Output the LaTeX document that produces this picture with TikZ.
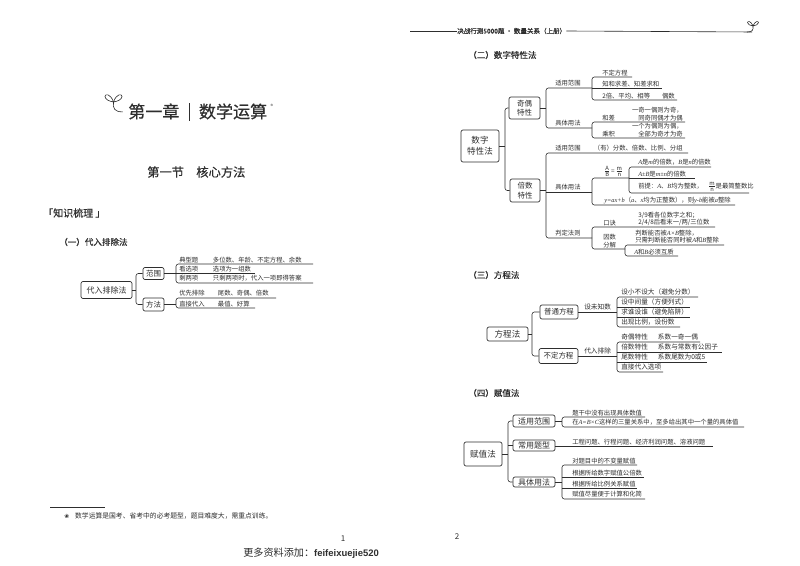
\documentclass[tikz,border=0pt]{standalone}
\usepackage{fontspec}
\setmainfont{Noto Sans CJK SC}
\newfontfamily\symfont{DejaVu Sans}
\newfontfamily\latinfont{Liberation Sans}
\newfontfamily\varfont{Liberation Serif}
\newfontfamily\medfont[FakeBold=0.5]{Noto Sans CJK SC}
\usetikzlibrary{calc}
\definecolor{ink}{gray}{0.18}
\newcommand{\mv}[1]{{\varfont\itshape #1}}
\newcommand{\frc}[2]{\scalebox{0.62}{\fontsize{10}{12}\selectfont$\frac{\mathit{#1}}{\mathit{#2}}$}}
\tikzset{
	conn/.style={draw=ink,line width=0.45pt},
	round/.style={rounded corners=1.8pt},
	leaf/.style={anchor=south west,inner sep=0pt,text=ink,yshift=0.9pt,align=left,font=\fontsize{4.75}{5.5}\selectfont},
	eqleaf/.style={font=\fontsize{5}{6}\selectfont},
	boxsize/.style 2 args={minimum width=#1*0.75pt,minimum height=#2*0.75pt},
	subbox/.style={draw=ink,line width=0.5pt,rounded corners=1.5pt,inner sep=0pt,text=ink,align=center,font=\fontsize{5.6}{7.2}\selectfont},
	rootbox/.style={subbox,font=\fontsize{6.4}{8}\selectfont},
	head/.style={anchor=west,inner sep=0pt,text=ink,font=\fontsize{6.4}{8}\selectfont\medfont},
}
\newcommand{\leaf}[7][] % style, name, x start, x end, y of line (in px), x of text, text
{
	\coordinate (#2-a) at (#3,#5);
	\coordinate (#2-b) at (#4,#5);
	\node[leaf,#1] (#2) at (#6,#5) {#7};
}
\newcommand{\bracket}[2] % first and last leaf of a group
{
	\draw[conn,round] (#1-b) -- (#1-a) -- (#2-a) -- (#2-b);
}
\newcommand{\sprout}[4] % x, y of fork, size across, size down
{
	\begin{scope}[shift={(#1,#2)},x=#3*0.75pt,y=-#4*0.75pt,conn]
		\draw (0,0) .. controls (-0.45,-0.05) and (-1,-0.3) .. (-1,-0.6) .. controls (-1,-0.95) and (-0.35,-0.95) .. (0,0);
		\draw (0,0) .. controls (0.45,-0.05) and (1,-0.3) .. (1,-0.6) .. controls (1,-0.95) and (0.35,-0.95) .. (0,0);
		\draw (0,0) .. controls (-0.1,0.7) and (0.1,1.1) .. (1.1,1.1);
	\end{scope}
}

\begin{document}
\begin{tikzpicture}[x=0.75pt,y=-0.75pt]
	% page is 800 x 566 px
	\useasboundingbox (0,0) rectangle (800,566);
	\fill[white] (0,0) rectangle (800,566);

	% left page
	\sprout{113.5}{102}{8.5}{9}
	\node[anchor=west,inner sep=0pt,text=ink,font=\fontsize{12.8}{14}\selectfont\medfont] (chapter) at (128,112) {第一章\hspace{7pt}\rule[-2pt]{0.6pt}{13pt}\hspace{7pt}数学运算};
	\node[inner sep=0pt,text=ink,font=\fontsize{4}{5}\selectfont] (chaptermark) at (272,106) {®};
	\node[anchor=west,inner sep=0pt,text=ink,font=\fontsize{9.2}{11}\selectfont\medfont] (section) at (147,172) {第一节\hspace{9.2pt}核心方法};
	\node[head,font=\fontsize{7.5}{9}\selectfont\medfont] (shuli) at (43,213) {「知识梳理\hspace{1.5pt}」};
	\node[head] (daipaihead) at (59,242) {（一）代入排除法};

	\node[rootbox,boxsize={51}{17},font=\fontsize{6}{8}\selectfont] (daipai) at (106.5,290) {代入排除法};
	\node[subbox,boxsize={21}{12}] (fanwei) at (153.5,273.5) {范围};
	\node[subbox,boxsize={21}{13}] (fangfa) at (153.5,304.5) {方法};
	\coordinate (daipaifork) at (136,290);
	\draw[conn] (daipai.east) -- (daipaifork);
	\draw[conn,round] (fanwei.west) -| (daipaifork) |- (fangfa.west);

	\leaf{dianxing}{176}{313}{264}{179}{典型题\hspace*{11pt}多位数、年龄、不定方程、余数}
	\leaf{kan}{176}{255}{273}{179}{看选项\hspace*{11pt}选项为一组数}
	\leaf{sheng}{176}{313}{283}{179}{剩两项\hspace*{11pt}只剩两项时，代入一项即得答案}
	\leaf{paichu}{176}{276}{298}{179}{优先排除\hspace*{10pt}尾数、奇偶、倍数}
	\leaf{zhijie}{176}{255}{308}{179}{直接代入\hspace*{10pt}最值、好算}
	\bracket{dianxing}{sheng}
	\bracket{paichu}{zhijie}
	\draw[conn] (kan-a) -- (kan-b);
	\draw[conn] (fanwei.east) -- (fanwei.east -| kan-a);
	\draw[conn] (fangfa.east) -- (fangfa.east -| zhijie-a);

	\draw[conn] (50,507) -- (105,507);
	\node[anchor=west,inner sep=0pt,text=ink,font=\fontsize{5.1}{6}\selectfont] (footnote) at (64,516) {{\symfont\fontsize{4.4}{6}\selectfont ❀}\hspace{4.5pt}数学运算是国考、省考中的必考题型，题目难度大，需重点训练。};
	\node[inner sep=0pt,text=ink,font=\fontsize{6}{7}\selectfont] (pageone) at (343,539) {1};
	\node[anchor=west,inner sep=0pt,text=ink,font=\fontsize{7.6}{9}\selectfont] (contact) at (243,553) {更多资料添加：{\latinfont\bfseries\fontsize{7.1}{9}\selectfont feifeixuejie520}};

	% right page, running head
	\node[anchor=west,inner sep=0pt,text=ink,font=\fontsize{4.9}{6}\selectfont\medfont] (runhead) at (457,31) {决战行测5000题 · 数量关系（上册）};
	\coordinate (runl) at (410,31);
	\coordinate (runr) at (752,32);
	\draw[conn] (runl) -- (runhead.west);
	\draw[conn] (runhead.east) -- (runr);
	\sprout{753}{26}{-5.5}{5.5}

	% (2) digit properties
	\node[head] (shuzihead) at (468,55) {（二）数字特性法};
	\node[rootbox,boxsize={38}{32}] (shuzi) at (480,146) {数字\\特性法};
	\node[subbox,boxsize={31}{22}] (jiou) at (524.5,108) {奇偶\\特性};
	\node[subbox,boxsize={30}{23}] (beishu) at (525,190.5) {倍数\\特性};
	\coordinate (shuzifork) at (505,146);
	\draw[conn] (shuzi.east) -- (shuzifork);
	\draw[conn,round] (jiou.west) -| (shuzifork) |- (beishu.west);

	\leaf{jsyong}{546}{592}{88}{555}{适用范围}
	\leaf{jjuti}{546}{592}{128}{555}{具体用法}
	\bracket{jsyong}{jjuti}
	\draw[conn] (jiou.east) -- (jiou.east -| jsyong-a);

	\leaf{buding}{592}{632}{77}{602}{不定方程}
	\leaf{zhihe}{592}{662}{88}{602}{知和求差、知差求和}
	\leaf{ouzhi}{592}{677}{100}{602}{2倍、平均、相等\hspace*{9pt}偶数}
	\bracket{buding}{ouzhi}
	\draw[conn] (zhihe-a) -- (zhihe-b);

	\leaf{hecha}{592}{685}{122}{602}{和差}
	\leaf{chengji}{592}{685}{138}{602}{乘积}
	\bracket{hecha}{chengji}
	\node[leaf,anchor=south east,align=right,xshift=-1.5pt] (hechav) at (hecha-b) {一奇一偶则为奇，\\同奇同偶才为偶};
	\node[leaf,anchor=south east,align=right,xshift=-1.5pt] (chengjiv) at (chengji-b) {一个为偶则为偶，\\全部为奇才为奇};

	\leaf{bsyong}{546}{688}{153}{555}{适用范围\hspace*{10pt}（有）分数、倍数、比例、分组}
	\leaf{bjuti}{546}{592}{192}{555}{具体用法}
	\leaf{bpanding}{546}{592}{238}{555}{判定法则}
	\bracket{bsyong}{bpanding}
	\draw[conn] (bjuti-a) -- (bjuti-b);
	\draw[conn] (beishu.east) -- (beishu.east -| bjuti-a);

	\leaf{bili}{592}{629}{178}{604}{\frc{A}{B}\hspace{0.8pt}=\hspace{0.8pt}\frc{m}{n}}
	\leaf{zhengchu}{592}{735}{205}{604}{\mv{y=ax+b}（\mv{a}、\mv{x}均为正整数），则\mv{y-b}能被\mv{a}整除}
	\bracket{bili}{zhengchu}

	\leaf{abei}{629}{711}{167}{638}{\mv{A}是\mv{m}的倍数，\mv{B}是\mv{n}的倍数}
	\leaf{ahe}{629}{695}{178}{638}{\mv{A±B}是\mv{m±n}的倍数}
	\leaf{qianti}{629}{749}{193}{638}{前提：\mv{A}、\mv{B}均为整数，\hspace{4pt}\frc{m}{n}是最简整数比}
	\bracket{abei}{qianti}
	\draw[conn] (ahe-a) -- (ahe-b);

	\leaf{koujue}{592}{715}{227}{603}{口诀}
	\leaf{yinshu}{592}{625}{249}{603}{因数\\分解}
	\bracket{koujue}{yinshu}
	\node[leaf] (koujuev) at (638,227) {3/9看各位数字之和；\\2/4/8后看末一/两/三位数};

	\leaf{panduan}{625}{724}{245}{635}{判断能否被\mv{A×B}整除，\\只需判断能否同时被\mv{A}和\mv{B}整除}
	\leaf{huzhi}{625}{678}{256}{634}{\mv{A}和\mv{B}必须互质}
	\bracket{panduan}{huzhi}

	% (3) equations
	\node[head] (fanghead) at (468,275) {（三）方程法};
	\node[rootbox,boxsize={41}{14}] (fangcheng) at (507.5,334) {方程法};
	\node[subbox,boxsize={38}{14}] (putong) at (559,312) {普通方程};
	\node[subbox,boxsize={39}{15}] (buding2) at (558.5,356) {不定方程};
	\coordinate (fangfork) at (532,334);
	\draw[conn] (fangcheng.east) -- (fangfork);
	\draw[conn,round] (putong.west) -| (fangfork) |- (buding2.west);

	\leaf[eqleaf]{shezhi}{578}{617}{312}{584}{设未知数}
	\leaf[eqleaf]{daipai2}{578}{617}{356}{584}{代入排除}
	\draw[conn] (shezhi-a) -- (shezhi-b);
	\draw[conn] (daipai2-a) -- (daipai2-b);

	\leaf[eqleaf]{sheda}{617}{698}{297}{621}{设小不设大（避免分数）}
	\leaf[eqleaf]{shezhong}{617}{690}{307}{621}{设中间量（方便列式）}
	\leaf[eqleaf]{sheshei}{617}{690}{317}{621}{求谁设谁（避免陷阱）}
	\leaf[eqleaf]{shefen}{617}{680}{327}{621}{出现比例，设份数}
	\bracket{sheda}{shefen}
	\leaf[eqleaf]{qiou}{617}{700}{342}{621}{奇偶特性\hspace*{7.5pt}系数一奇一偶}
	\leaf[eqleaf]{beite}{617}{722}{352}{621}{倍数特性\hspace*{7.5pt}系数与常数有公因子}
	\leaf[eqleaf]{weite}{617}{707}{362}{621}{尾数特性\hspace*{7.5pt}系数尾数为0或5}
	\leaf[eqleaf]{xuanxiang}{617}{663}{372}{621}{直接代入选项}
	\bracket{qiou}{xuanxiang}
	\foreach \n in {shezhong,sheshei,beite,weite}
		\draw[conn] (\n-a) -- (\n-b);

	% (4) assigning values
	\node[head] (fuzhihead) at (468,393) {（四）赋值法};
	\node[rootbox,boxsize={38}{24}] (fuzhi) at (483,454) {赋值法};
	\node[subbox,boxsize={42}{12},font=\fontsize{6}{7}\selectfont] (shiyong) at (534,421) {适用范围};
	\node[subbox,boxsize={42}{11},font=\fontsize{6}{7}\selectfont] (changyong) at (534,445.5) {常用题型};
	\node[subbox,boxsize={42}{10},font=\fontsize{6}{7}\selectfont] (juti) at (534,482) {具体用法};
	\coordinate (fuzhifork) at (508,454);
	\draw[conn] (fuzhi.east) -- (fuzhifork);
	\draw[conn,round] (shiyong.west) -| (fuzhifork) |- (juti.west);
	\draw[conn] (changyong.west) -- (changyong.west -| fuzhifork);

	\leaf{tigan}{562}{645}{417}{572}{题干中没有出现具体数值}
	\leaf{sanliang}{562}{744}{427}{572}{在\mv{A=B×C}这样的三量关系中，至多给出其中一个量的具体值}
	\bracket{tigan}{sanliang}
	\leaf{gongcheng}{555}{713}{446}{572}{工程问题、行程问题、经济利润问题、溶液问题}
	\draw[conn] (gongcheng-a) -- (gongcheng-b);
	\leaf{bubian}{562}{637}{465}{572}{对题目中的不变量赋值}
	\leaf{gongbei}{562}{644}{477}{572}{根据所给数字赋值公倍数}
	\leaf{bilifu}{562}{637}{488}{572}{根据所给比例关系赋值}
	\leaf{jinliang}{562}{645}{499}{572}{赋值尽量便于计算和化简}
	\bracket{bubian}{jinliang}
	\foreach \n in {gongbei,bilifu}
		\draw[conn] (\n-a) -- (\n-b);
	\draw[conn] (shiyong.east) -- (shiyong.east -| tigan-a);
	\draw[conn] (juti.east) -- (juti.east -| gongbei-a);

	\node[inner sep=0pt,text=ink,font=\fontsize{6}{7}\selectfont] (pagetwo) at (457,537) {2};
\end{tikzpicture}
\end{document}
